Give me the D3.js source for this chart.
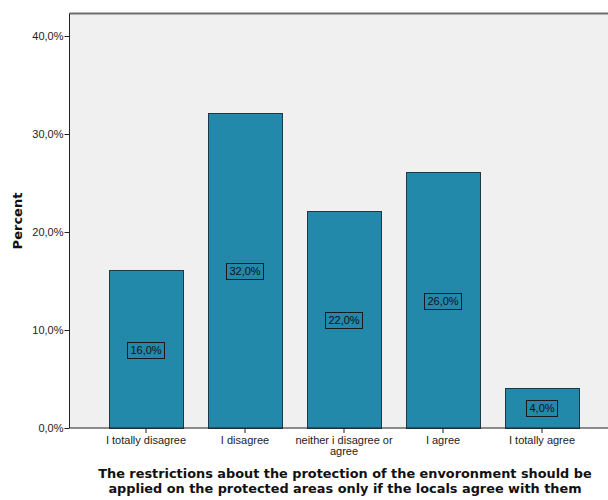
<!DOCTYPE html>
<html><head><meta charset="utf-8">
<script src="https://cdn.jsdelivr.net/npm/d3@7"></script>
<style>body{margin:0;background:#fff}svg{display:block}</style>
</head><body><svg id="c" width="608" height="500" font-family="Liberation Sans, Arial, sans-serif"></svg>
<script>
const categories = ["I totally disagree","I disagree","neither i disagree or agree","I agree","I totally agree"];
const values = [16,32,22,26,4];
const yTicks = [0,10,20,30,40];
const yLabel = "Percent";
const xTitle = ["The restrictions about the protection of the envoronment should be","applied on the protected areas only if the locals agree with them"];

const svg = d3.select("#c");
const L=69.5, R=608, T=13.5, B=428;
const y = d3.scaleLinear().domain([0,40]).range([B,36]);
const x = d3.scaleBand().domain(categories).range([96.5,591.5]).paddingInner(25/99).paddingOuter(12.5/99);
const fmt = v => d3.format(".1f")(v).replace(".",",")+"%";
const SANS = "Liberation Sans, Arial, sans-serif";
const WIDE = "DejaVu Sans, Verdana, sans-serif";

svg.append("rect").attr("x",L).attr("y",T).attr("width",R-L).attr("height",B-T).attr("fill","#f0f0f0");
svg.append("line").attr("x1",L).attr("x2",R).attr("y1",T).attr("y2",T).attr("stroke","#6e6e6e").attr("stroke-width",2);

svg.selectAll(".bar").data(values).join("rect")
  .attr("x",(d,i)=>Math.round(x(categories[i]))+0.5).attr("y",d=>Math.round(y(d))-0.5)
  .attr("width",x.bandwidth()).attr("height",d=>B-Math.round(y(d))+1)
  .attr("fill","#2389ab").attr("stroke","#1c3a46").attr("stroke-width",1);

values.forEach((d,i)=>{
  const cx = x(categories[i])+x.bandwidth()/2, cy = y(d/2);
  const t = svg.append("text").attr("x",cx).attr("y",cy+4).attr("text-anchor","middle")
    .style("font-family",SANS).attr("font-size",11).attr("fill","#111").text(fmt(d));
  const w = t.node().getComputedTextLength();
  svg.insert("rect","text:last-of-type").attr("x",Math.round(cx-w/2-3)+0.5).attr("y",Math.round(cy-8)+0.5)
    .attr("width",Math.round(w+6)).attr("height",16).attr("fill","none").attr("stroke","#1a1a1a").attr("stroke-width",1);
});

const ya = svg.append("g").attr("transform",`translate(${L},0)`)
  .call(d3.axisLeft(y).tickValues(yTicks).tickSize(5).tickFormat(fmt));
ya.select(".domain").attr("d",`M0,${T}V${B}`).attr("stroke","#222");
ya.selectAll(".tick line").attr("stroke","#222");
ya.selectAll(".tick text").attr("font-size",11).attr("fill","#222").style("font-family",SANS).attr("x",-6);

const xa = svg.append("g").attr("transform",`translate(0,${B})`)
  .call(d3.axisBottom(x).tickSize(5).tickSizeOuter(0));
xa.select(".domain").attr("d",`M${L},0H${R}`).attr("stroke","#222");
xa.selectAll(".tick line").attr("stroke","#222");
xa.selectAll(".tick text").attr("font-size",11).attr("fill","#222").style("font-family",SANS)
  .each(function(d){
    const el=d3.select(this);
    if(d==="neither i disagree or agree"){
      el.text(null);
      el.append("tspan").attr("x",0).attr("dy","0.71em").text("neither i disagree or");
      el.append("tspan").attr("x",0).attr("dy","1.0em").text("agree");
    }
  }).attr("y",8);

svg.append("text").attr("transform","translate(22,221) rotate(-90)").attr("text-anchor","middle")
  .style("font-family",WIDE)
  .attr("font-size",13).attr("font-weight","bold").attr("fill","#111").text(yLabel);
const tt = svg.selectAll(".tt").data(xTitle).join("text").attr("x",345).attr("y",(d,i)=>478+i*15)
  .attr("text-anchor","middle").style("font-family",WIDE)
  .attr("font-size",12).attr("font-weight","bold").attr("fill","#111").text(d=>d);
const w0 = tt.node().getComputedTextLength();
tt.attr("font-size", Math.min(13, 12*494/w0));
</script></body></html>
